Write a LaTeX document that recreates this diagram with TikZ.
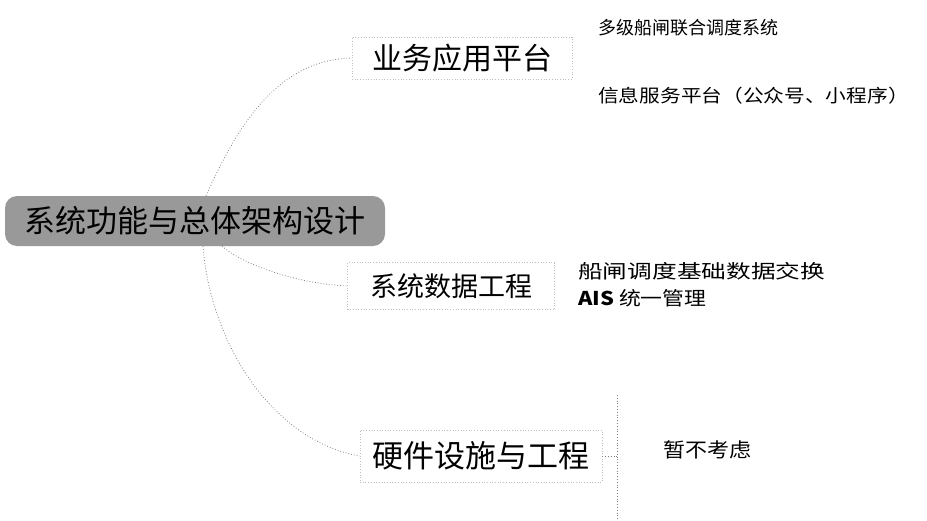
\documentclass[tikz,border=0pt]{standalone}
\usepackage{fontspec}
\newfontfamily\cjk{Noto Sans CJK SC}
\usetikzlibrary{calc}
\newcommand\fs[1]{\fontsize{#1}{#1}\selectfont}
\newcommand\sx[2]{\scalebox{#1}[1]{#2}}
\begin{document}
\begin{tikzpicture}[x=1pt,y=-1pt,
  every node/.style={font=\cjk, inner sep=0pt, text=black},
  rootbox/.style={fill=black!40, rounded corners=12pt, minimum width=380pt, minimum height=50pt},
  branch/.style={draw=black!25, dotted, line width=0.7pt},
  edge/.style={draw=black!50, dotted, line width=0.8pt}]
\useasboundingbox (0,0) rectangle (927,520);

\node[rootbox] (root) at (195,221) {\fs{31}系统功能与总体架构设计};

\node[branch, minimum width=220pt, minimum height=42pt] (b1) at (462,58) {\fs{30}业务应用平台};
\node[branch, minimum width=207pt, minimum height=47pt] (b2) at (451,286) {\fs{27}系统数据工程};
\node[branch, minimum width=242pt, minimum height=52pt] (b3) at (481,456) {\fs{31}硬件设施与工程};

\node[anchor=west] (l11) at (598,28) {\fs{18}多级船闸联合调度系统};
\node[anchor=west] (l12) at (598,96) {\sx{1.15}{\fs{18}信息服务平台（公众号、小程序）}};
\node[anchor=west] (l21) at (578,271) {\sx{1.3}{\fs{19}船闸调度基础数据交换}};
\node[anchor=west] (l22) at (578,298) {\sx{1.15}{\fs{19}\textbf{AIS} 统一管理}};
\node[anchor=west] (l31) at (663,450) {\sx{1.1}{\fs{20}暂不考虑}};

\draw[edge] ($(root.north)+(11,0)$) .. controls (240,120) and (280,60) .. (b1.west);
\draw[edge] ($(root.south)+(27,0)$) .. controls (240,262) and (290,283) .. (b2.west);
\draw[edge] ($(root.south)+(8,0)$) .. controls (210,340) and (270,440) .. (b3.west);

\coordinate (vt) at (617,395);
\coordinate (vm) at (617,456);
\coordinate (vb) at (617,520);
\draw[edge] (vt) -- (vb);
\draw[edge] (b3.east) -- (vm);
\end{tikzpicture}
\end{document}
